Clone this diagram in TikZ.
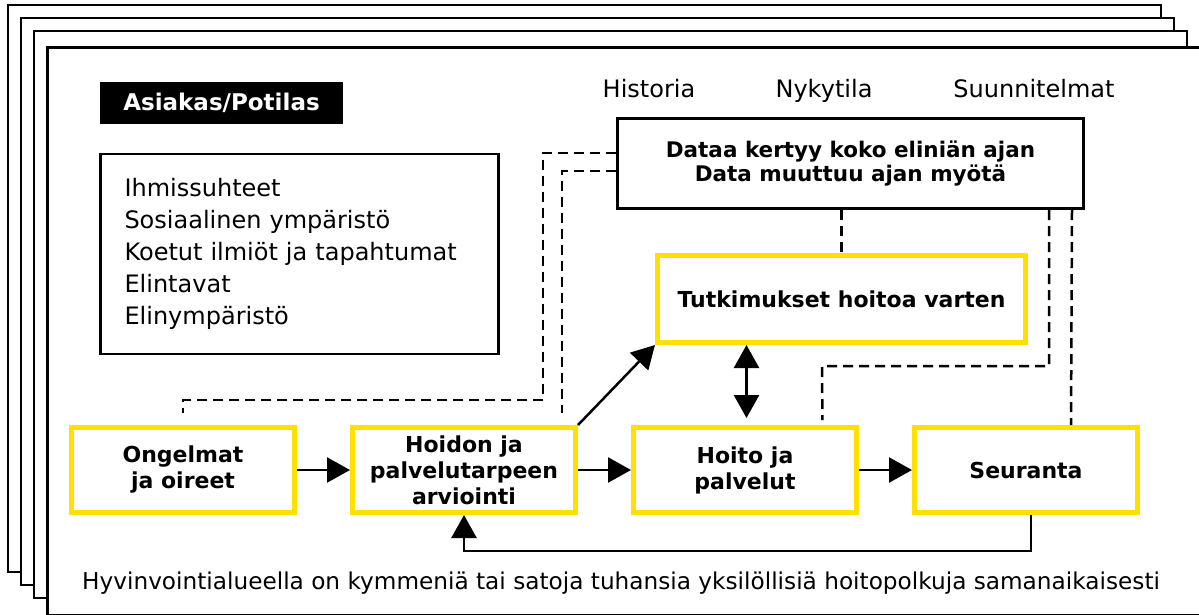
\documentclass[tikz,border=0pt]{standalone}
\usepackage{fontspec}
\setmainfont{DejaVu Sans}
\usetikzlibrary{positioning}
\usetikzlibrary{arrows.meta}
\definecolor{keltainen}{RGB}{255,224,0}

\begin{document}
\begin{tikzpicture}
		[x=1pt, y=-1pt, node distance={281pt}, line width=2.5pt,
		 main/.style = {draw=keltainen, line width=5pt, minimum width=223pt, minimum height=85pt, align=center, font=\bfseries\fontsize{22}{26}\selectfont},
		 databox/.style = {draw, line width=3pt, minimum width=466pt, minimum height=90pt, align=center, font=\bfseries\fontsize{21.5}{24}\selectfont},
		 teksti/.style = {font=\fontsize{24}{32}\selectfont},
		 katko/.style = {dash pattern=on 10pt off 6pt, line width=2.5pt},
		 nuoli/.style = {-{Triangle[length=23pt,width=25pt]}, line width=2.5pt}]
	\useasboundingbox (0,0) rectangle (1199,614);
	% pinotut sivut
	\foreach \d in {0,13,26}
		\draw[fill=white, line width=1.5pt] (8+\d,5+\d) rectangle (1161+\d,572+\d);
	\draw[fill=white, line width=3pt] (47,47) rectangle (1215,615);
	% otsikot
	\node[fill=black, text=white, minimum width=243pt, minimum height=42pt, font=\bfseries\fontsize{23}{24}\selectfont] (asiakas) at (221.5,103) {Asiakas/Potilas};
	\node[draw, line width=2.5pt, minimum width=398pt, minimum height=200pt, text width=350pt, align=left, teksti] (tekijat) at (299.5,254) {Ihmissuhteet\\Sosiaalinen ympäristö\\Koetut ilmiöt ja tapahtumat\\Elintavat\\Elinympäristö};
	\node[teksti, anchor=base] (historia) at (649,97) {Historia};
	\node[teksti, anchor=base] (nykytila) at (824,97) {Nykytila};
	\node[teksti, anchor=base] (suunnitelmat) at (1034,97) {Suunnitelmat};
	\node[databox] (data) at (850.5,163.5) {Dataa kertyy koko eliniän ajan\\Data muuttuu ajan myötä};
	\node[main, minimum width=368pt, minimum height=87pt] (tutkimus) at (841.5,299) {Tutkimukset hoitoa varten};
	% hoitopolku
	\node[main] (ongelmat) at (183,470) {Ongelmat\\ja oireet};
	\node[main] (hoidon) [right of = ongelmat] {Hoidon ja\\palvelutarpeen\\arviointi};
	\node[main] (hoito) [right of = hoidon] {Hoito ja\\palvelut};
	\node[main] (seuranta) [right of = hoito] {Seuranta};
	\node[teksti, font=\fontsize{23.2}{28}\selectfont] (alateksti) at (621,583) {Hyvinvointialueella on kymmeniä tai satoja tuhansia yksilöllisiä hoitopolkuja samanaikaisesti};
	% nuolet
	\draw[nuoli] (ongelmat) -- (hoidon);
	\draw[nuoli] (hoidon) -- (hoito);
	\draw[nuoli] (hoito) -- (seuranta);
	\draw[nuoli] (hoidon.north east) -- (tutkimus.south west);
	\draw[nuoli, {Triangle[length=23pt,width=25pt]}-{Triangle[length=23pt,width=25pt]}, shorten <=7pt] ([xshift=1.5pt]hoito.north) -- ([xshift=1.5pt]hoito.north |- tutkimus.south);
	\draw[nuoli] ([xshift=5pt]seuranta.south) |- ([yshift=-36pt]hoidon.south) -- (hoidon.south);
	% datayhteydet
	\draw[katko, shorten >=12pt] ([yshift=10.5pt]data.west) -| (543,400) -| (ongelmat.north);
	\draw[katko, shorten >=12pt] ([yshift=-7.5pt]data.west) -| ([xshift=98pt]hoidon.north);
	\draw[katko] (tutkimus.north |- data.south) -- (tutkimus.north);
	\draw[katko, shorten >=5pt] ([xshift=198.5pt]data.south) |- (822,366) -- ([xshift=77.5pt]hoito.north);
	\draw[katko] ([xshift=221.5pt]data.south) -- ([xshift=45pt]seuranta.north);
\end{tikzpicture}
\end{document}
